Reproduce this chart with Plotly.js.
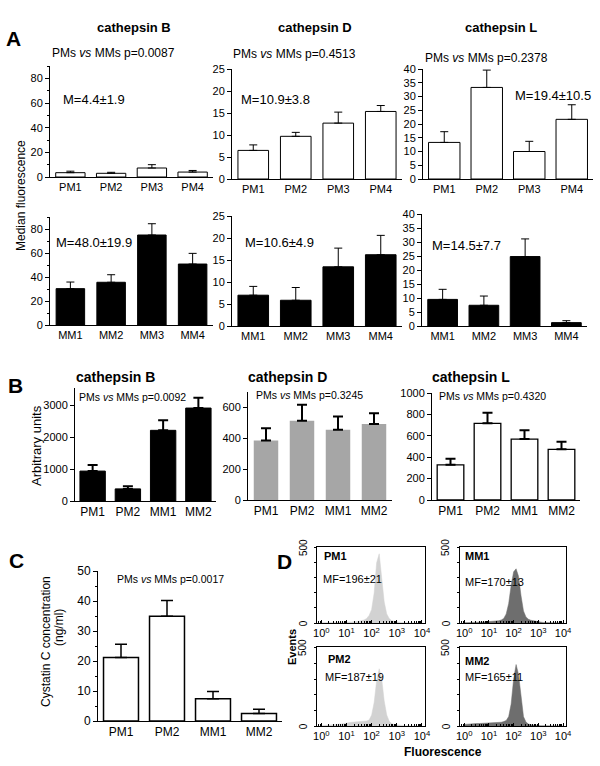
<!DOCTYPE html>
<html><head><meta charset="utf-8">
<script src="https://cdn.plot.ly/plotly-3.0.1.min.js"></script>
<style>html,body{margin:0;padding:0;background:#fff}#chart{width:600px;height:766px}</style>
</head><body><div id="chart"></div>
<script>
const W = 600, H = 766;
const FONT = 'Liberation Sans, Arial, Helvetica, sans-serif';

// ---------- categories ----------
const pmCats = ['PM1', 'PM2', 'PM3', 'PM4'];
const mmCats = ['MM1', 'MM2', 'MM3', 'MM4'];
const pairCats = ['PM1', 'PM2', 'MM1', 'MM2'];

// ---------- panel A: median fluorescence (mean, upper SD) ----------
const aPmB = [3.5, 3.0, 7.3, 4.0],      aPmBErr = [1.2, 0.8, 2.7, 1.3];
const aPmD = [6.5, 9.7, 12.7, 15.35],   aPmDErr = [1.25, 0.9, 2.5, 1.35];
const aPmL = [13.3, 33.3, 10.0, 21.7],  aPmLErr = [3.9, 6.3, 3.7, 5.3];
const aMmB = [30.3, 35.6, 75.0, 50.8],  aMmBErr = [5.5, 6.3, 9.4, 8.9];
const aMmD = [7.0, 5.85, 13.45, 16.2],  aMmDErr = [2.0, 2.9, 4.25, 4.4];
const aMmL = [9.5, 7.4, 24.8, 1.2],     aMmLErr = [3.6, 3.3, 6.3, 0.7];

// ---------- panel B: arbitrary units ----------
const bB = [940, 380, 2220, 2920], bBErr = [190, 80, 320, 320];
const bD = [385, 513, 455, 492],   bDErr = [80, 104, 86, 71];
const bL = [329, 717, 569, 474],   bLErr = [56, 98, 83, 71];

// ---------- panel C: cystatin C (ng/ml) ----------
const cCys = [21.2, 34.9, 7.4, 2.5], cCysErr = [4.4, 5.3, 2.4, 1.4];

// ---------- panel D: flow cytometry histograms ----------
const fluorBins = [1, 1.26, 1.58, 2.0, 2.51, 3.16, 3.98, 5.01, 6.31, 7.94,
  10, 12.6, 15.8, 20.0, 25.1, 31.6, 39.8, 50.1, 63.1, 79.4,
  100, 126, 158, 200, 251, 316, 398, 501, 631, 794,
  1000, 1259, 1585, 1995, 2512, 3162, 3981, 5012, 6310, 7943, 10000];
const histPM1 = [2, 2, 3, 2, 3, 3, 4, 3, 4, 5,
  6, 6, 7, 8, 9, 12, 16, 20, 30, 50,
  90, 200, 400, 460, 300, 140, 60, 30, 15, 10,
  7, 5, 3, 2, 2, 1, 1, 1, 1, 1, 0];
const histMM1 = [2, 2, 2, 2, 2, 2, 5, 6, 7, 8,
  9, 10, 12, 13, 15, 20, 30, 60, 130, 250,
  340, 360, 310, 180, 80, 40, 25, 18, 14, 12,
  9, 6, 4, 2, 2, 1, 1, 1, 1, 1, 0];
const histPM2 = [2, 3, 3, 4, 5, 6, 8, 10, 13, 16,
  20, 22, 24, 25, 26, 27, 28, 30, 32, 38,
  70, 150, 290, 366, 300, 160, 70, 30, 15, 10,
  7, 5, 3, 2, 2, 2, 1, 1, 1, 1, 0];
const histMM2 = [10, 12, 14, 15, 15, 16, 16, 17, 17, 18,
  18, 19, 20, 20, 22, 24, 28, 35, 60, 140,
  300, 393, 330, 170, 60, 25, 12, 8, 5, 4,
  3, 2, 2, 1, 1, 1, 1, 1, 0, 0, 0];
const eventTicks = [0, 500];
const eventTickText = ['0', '500'];

// ---------- geometry helpers ----------
const px = v => v / W;
const py = v => 1 - v / H;

const data = [];
const layout = {
  width: W, height: H, margin: {l: 0, r: 0, t: 0, b: 0},
  paper_bgcolor: '#fff', plot_bgcolor: 'rgba(0,0,0,0)',
  showlegend: false, font: {family: FONT, color: '#000', size: 11},
  annotations: []
};

let axN = 0;
function barPanel(o) {
  axN++;
  const xa = 'x' + (axN === 1 ? '' : axN), ya = 'y' + (axN === 1 ? '' : axN);
  const xk = 'xaxis' + (axN === 1 ? '' : axN), yk = 'yaxis' + (axN === 1 ? '' : axN);
  data.push({
    type: 'bar', x: o.cats, y: o.vals, xaxis: xa, yaxis: ya, width: o.bw,
    marker: {color: o.fill, line: {color: o.lineColor || '#000', width: o.lineW === undefined ? 1 : o.lineW}},
    error_y: {type: 'data', symmetric: false, array: o.err, arrayminus: o.err.map(() => 0),
      color: '#000', thickness: o.eth || 1, width: o.ew || 4},
    hoverinfo: 'skip'
  });
  layout[xk] = {
    domain: [px(o.x0), px(o.x1)], anchor: ya, range: [-0.5, 3.5], type: 'category',
    showline: true, linecolor: '#000', linewidth: 1, ticks: '', showgrid: false, zeroline: false,
    tickfont: {size: o.xfs || 11, family: FONT}, fixedrange: true
  };
  const yax = {
    domain: [py(o.y1), py(o.y0)], anchor: xa, range: o.range, dtick: o.dtick, tick0: 0,
    showline: true, linecolor: '#000', linewidth: 1, ticks: 'outside', ticklen: 4, tickcolor: '#000',
    showgrid: false, zeroline: false, tickfont: {size: o.yfs || 11, family: FONT}, fixedrange: true
  };
  if (o.minor) yax.minor = {dtick: o.minor, ticks: 'outside', ticklen: 2, tickcolor: '#000', showgrid: false};
  layout[yk] = yax;
}

function histPanel(o) {
  axN++;
  const xa = 'x' + axN, ya = 'y' + axN;
  data.push({
    type: 'scatter', mode: 'lines', x: fluorBins, y: o.counts, xaxis: xa, yaxis: ya,
    fill: 'tozeroy', fillcolor: o.color, line: {color: o.color, width: 0.5}, hoverinfo: 'skip'
  });
  layout['xaxis' + axN] = {
    domain: [px(o.x0), px(o.x1)], anchor: ya, type: 'log', range: [-0.17, 4.12],
    tickvals: [1, 10, 100, 1000, 10000],
    ticktext: ['10<sup>0</sup>', '10<sup>1</sup>', '10<sup>2</sup>', '10<sup>3</sup>', '10<sup>4</sup>'],
    ticks: 'inside', ticklen: 3, tickcolor: '#000',
    minor: {dtick: 'D1', ticks: 'inside', ticklen: 2, tickcolor: '#000', showgrid: false},
    showline: true, mirror: true, linecolor: '#000', linewidth: 1, showgrid: false, zeroline: false,
    tickfont: {size: 11, family: FONT}, fixedrange: true
  };
  layout['yaxis' + axN] = {
    domain: [py(o.y1), py(o.y0)], anchor: xa, range: [0, 505], tickvals: eventTicks,
    showticklabels: false, ticks: 'outside', ticklen: 2, tickcolor: '#000',
    minor: {dtick: 100, ticks: 'outside', ticklen: 2, tickcolor: '#000', showgrid: false},
    showline: true, mirror: true, linecolor: '#000', linewidth: 1, showgrid: false, zeroline: false,
    fixedrange: true
  };
  // rotated event tick labels at the axis' own values (log axes take log10 positions), left of the frame
  eventTicks.forEach((v, i) => layout.annotations.push({
    text: eventTickText[i], xref: xa, yref: ya, x: Math.log10(fluorBins[0]), y: v, xshift: -18,
    xanchor: 'center', yanchor: 'middle', textangle: -90, showarrow: false,
    font: {family: FONT, size: 10, color: '#000'}
  }));
}

// Panel A, top row (PMs)
barPanel({cats: pmCats, vals: aPmB, err: aPmBErr, fill: '#fff', bw: 0.72, x0: 50, x1: 213, y0: 66, y1: 177, range: [0, 90], dtick: 20, minor: 10});
barPanel({cats: pmCats, vals: aPmD, err: aPmDErr, fill: '#fff', bw: 0.72, x0: 232, x1: 402, y0: 69, y1: 179, range: [0, 25], dtick: 5});
barPanel({cats: pmCats, vals: aPmL, err: aPmLErr, fill: '#fff', bw: 0.74, x0: 423, x1: 593, y0: 69, y1: 179, range: [0, 40], dtick: 5});
// Panel A, bottom row (MMs)
barPanel({cats: mmCats, vals: aMmB, err: aMmBErr, fill: '#000', bw: 0.70, x0: 50, x1: 213, y0: 217, y1: 325, range: [0, 90], dtick: 20, minor: 10});
barPanel({cats: mmCats, vals: aMmD, err: aMmDErr, fill: '#000', bw: 0.72, x0: 232, x1: 402, y0: 216, y1: 326, range: [0, 25], dtick: 5});
barPanel({cats: mmCats, vals: aMmL, err: aMmLErr, fill: '#000', bw: 0.72, x0: 422, x1: 587, y0: 214, y1: 326, range: [0, 40], dtick: 5});
// Panel B
barPanel({cats: pairCats, vals: bB, err: bBErr, fill: '#000', bw: 0.72, x0: 75, x1: 216, y0: 388, y1: 501, range: [0, 3550], dtick: 1000, eth: 2, ew: 5, xfs: 12, yfs: 11});
barPanel({cats: pairCats, vals: bD, err: bDErr, fill: '#a6a6a6', lineW: 0, bw: 0.68, x0: 248, x1: 392, y0: 392, y1: 500, range: [0, 700], dtick: 200, eth: 2, ew: 5, xfs: 12, yfs: 11});
barPanel({cats: pairCats, vals: bL, err: bLErr, fill: '#fff', lineW: 1.3, bw: 0.72, x0: 432, x1: 580, y0: 393, y1: 500, range: [0, 1000], dtick: 200, eth: 2, ew: 5, xfs: 12, yfs: 11});
// Panel C
barPanel({cats: pairCats, vals: cCys, err: cCysErr, fill: '#fff', lineW: 1.5, bw: 0.76, x0: 98, x1: 282, y0: 571, y1: 721, range: [0, 50], dtick: 10, minor: 5, eth: 1.5, ew: 6, xfs: 12, yfs: 12});
// Panel D
histPanel({counts: histPM1, color: '#d2d2d2', x0: 317, x1: 425, y0: 547, y1: 623});
histPanel({counts: histMM1, color: '#6e6e6e', x0: 460, x1: 566, y0: 547, y1: 623});
histPanel({counts: histPM2, color: '#d2d2d2', x0: 317, x1: 425, y0: 647, y1: 726});
histPanel({counts: histMM2, color: '#6e6e6e', x0: 460, x1: 566, y0: 647, y1: 726});

// ---------- text ----------
function txt(t, x, y, o = {}) {
  layout.annotations.push({
    text: t, x: px(x), y: py(y), xref: 'paper', yref: 'paper', showarrow: false,
    xanchor: o.xa || 'center', yanchor: 'middle', textangle: o.angle || 0,
    font: {family: FONT, size: o.size || 12, color: '#000', weight: o.bold ? 'bold' : 'normal'}
  });
}
// panel letters
txt('A', 13, 38, {size: 21, bold: true});
txt('B', 15, 385, {size: 21, bold: true});
txt('C', 16, 560, {size: 21, bold: true});
txt('D', 284, 561, {size: 21, bold: true});
// panel A titles
txt('cathepsin B', 134, 27, {size: 13, bold: true});
txt('cathepsin D', 315, 27, {size: 13, bold: true});
txt('cathepsin L', 501, 27, {size: 13, bold: true});
txt('PMs <i>vs</i> MMs p=0.0087', 113, 53, {size: 12});
txt('PMs <i>vs</i> MMs p=0.4513', 294, 54, {size: 12});
txt('PMs <i>vs</i> MMs p=0.2378', 486, 58, {size: 12});
txt('M=4.4±1.9', 61, 99, {size: 13, xa: 'left'});
txt('M=10.9±3.8', 239, 99, {size: 13, xa: 'left'});
txt('M=19.4±10.5', 513, 96, {size: 13, xa: 'left'});
txt('M=48.0±19.9', 54, 243, {size: 13, xa: 'left'});
txt('M=10.6±4.9', 243, 242, {size: 13, xa: 'left'});
txt('M=14.5±7.7', 430, 246, {size: 13, xa: 'left'});
txt('Median fluorescence', 21, 196, {size: 12, angle: -90});
// panel B titles
txt('cathepsin B', 115, 377, {size: 14, bold: true});
txt('cathepsin D', 287, 377, {size: 14, bold: true});
txt('cathepsin L', 471, 377, {size: 14, bold: true});
txt('PMs <i>vs</i> MMs p=0.0092', 77, 397, {size: 10.5, xa: 'left'});
txt('PMs <i>vs</i> MMs p=0.3245', 254, 395, {size: 10.5, xa: 'left'});
txt('PMs <i>vs</i> MMs p=0.4320', 437, 396, {size: 10.5, xa: 'left'});
txt('Arbitrary units', 36, 446, {size: 13, angle: -90});
// panel C
txt('PMs <i>vs</i> MMs p=0.0017', 115, 579, {size: 10.5, xa: 'left'});
txt('Cystatin C concentration', 46, 642, {size: 12, angle: -90});
txt('(ng/ml)', 59, 628, {size: 12, angle: -90});
// panel D
txt('PM1', 322, 556, {size: 11, bold: true, xa: 'left'});
txt('MF=196±21', 321, 579, {size: 11, xa: 'left'});
txt('MM1', 463, 556, {size: 11, bold: true, xa: 'left'});
txt('MF=170±13', 463, 582, {size: 11, xa: 'left'});
txt('PM2', 326, 659, {size: 11, bold: true, xa: 'left'});
txt('MF=187±19', 323, 677, {size: 11, xa: 'left'});
txt('MM2', 463, 661, {size: 11, bold: true, xa: 'left'});
txt('MF=165±11', 463, 677, {size: 11, xa: 'left'});
txt('Events', 292, 647, {size: 11, bold: true, angle: -90});
txt('Fluorescence', 443, 752, {size: 12, bold: true});

Plotly.newPlot('chart', data, layout, {staticPlot: true, displayModeBar: false});
</script>
</body></html>
